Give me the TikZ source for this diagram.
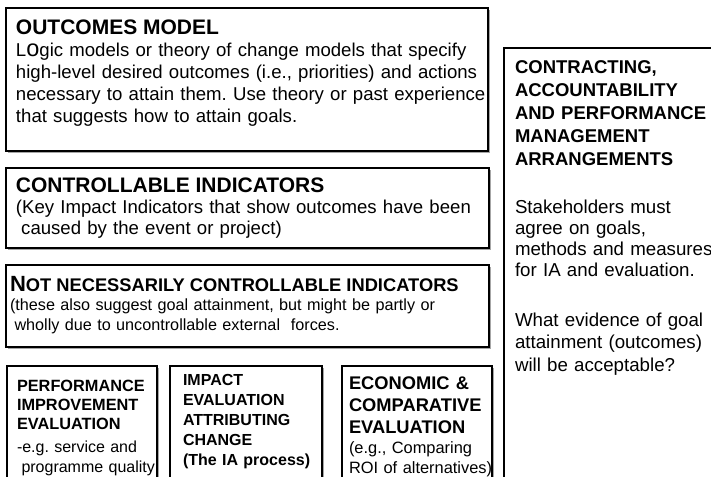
\documentclass[tikz,border=0pt]{standalone}
\usepackage{fontspec}
\setmainfont{Liberation Sans}
\usetikzlibrary{shadows}
\newcommand\setfs[2]{\fontsize{#1pt}{#2pt}\selectfont}
\frenchspacing

\begin{document}
\begin{tikzpicture}[x=1pt,y=-1pt,
  panel/.style={draw=black, line width=2.4pt, fill=white,
    drop shadow={shadow xshift=1.6pt, shadow yshift=-1.6pt, opacity=0.35, fill=black}},
  txt/.style={inner sep=0pt, outer sep=0pt, align=left, text width=650pt, anchor=north west,
    execute at begin node=\frenchspacing},
  oneline/.style={inner sep=0pt, outer sep=0pt, anchor=base west},
]
\useasboundingbox (0,0) rectangle (711,476);
\fill[white] (0,0) rectangle (711,476);

% panels
\draw[panel] (6,8) rectangle (488,151);
\draw[panel] (6,168) rectangle (489,248);
\draw[panel] (6,265) rectangle (489,347);
\draw[panel] (7,366) rectangle (157,492);
\draw[panel] (170,366) rectangle (322,492);
\draw[panel] (342,366) rectangle (492,492);
\draw[panel] (504,48) rectangle (730,492);

% outcomes model
\node[oneline, font=\setfs{21}{24}\bfseries] (omtitle) at (16,34.6) {OUTCOMES MODEL};
\node[txt, font=\setfs{18.6}{22.2}] (ombody) at (16,42.6)
  {L{\setfs{23.5}{22.2}o}gic models or theory of change models that specify\\
   high-level desired outcomes (i.e., priorities) and actions\\
   necessary to attain them. Use theory or past experience\\
   that suggests how to attain goals.};

% controllable indicators
\node[oneline, font=\setfs{21}{24}\bfseries] (cititle) at (16,192.6) {CONTROLLABLE INDICATORS};
\node[txt, font=\setfs{18.6}{21}] (cibody) at (16,199.6)
  {(Key Impact Indicators that show outcomes have been\\
   \hspace*{5.2pt}caused by the event or project)};

% not necessarily controllable indicators
\node[oneline, font=\setfs{18.3}{22}\bfseries] (nctitle) at (10,291.6)
  {{\setfs{22}{22}N}OT NECESSARILY CONTROLLABLE INDICATORS};
\node[txt, font=\setfs{16.2}{19.7}] (ncbody) at (10,298.7)
  {(these also suggest goal attainment, but might be partly or\\
   \hspace*{4.5pt}wholly due to uncontrollable external\ \ forces.};

% performance improvement evaluation
\node[txt, font=\setfs{16.3}{19}\bfseries] (pititle) at (17,380.5)
  {PERFORMANCE\\IMPROVEMENT\\EVALUATION};
\node[txt, font=\setfs{16}{20}] (pibody) at (17,440.5)
  {-e.g. service and\\
   \hspace*{4.5pt}programme quality};

% impact evaluation
\node[txt, font=\setfs{16}{20}\bfseries] (ietitle) at (183,374.6)
  {IMPACT\\EVALUATION\\ATTRIBUTING\\CHANGE\\(The IA process)};

% economic and comparative evaluation
\node[txt, font=\setfs{18.3}{22}\bfseries] (ectitle) at (349,376.6)
  {ECONOMIC \&\\COMPARATIVE\\EVALUATION};
\node[txt, font=\setfs{16.4}{20}] (ecbody) at (349,441.5)
  {(e.g., Comparing\\ROI of alternatives)};

% contracting and accountability
\node[txt, font=\setfs{18.5}{23}\bfseries] (catitle) at (515,60.2)
  {CONTRACTING,\\ACCOUNTABILITY\\AND PERFORMANCE\\MANAGEMENT\\ARRANGEMENTS};
\node[txt, font=\setfs{18.7}{21}] (cabodya) at (515,200.4)
  {Stakeholders must\\agree on goals,\\methods and measures\\for IA and evaluation.};
\node[txt, font=\setfs{18.7}{22.5}] (cabodyb) at (515,312.5)
  {What evidence of goal\\attainment (outcomes)\\will be acceptable?};
\end{tikzpicture}
\end{document}
